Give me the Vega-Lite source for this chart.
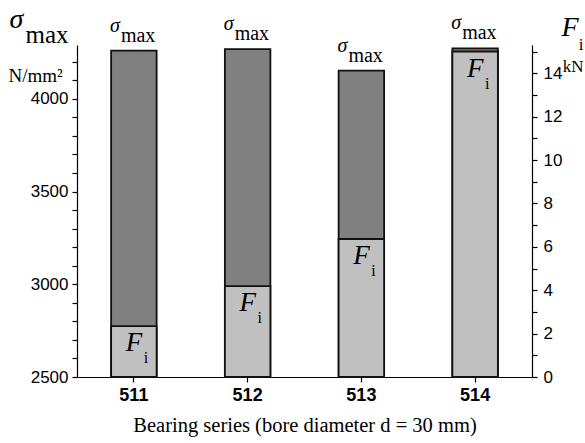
{
  "$schema": "https://vega.github.io/schema/vega-lite/v6.json",
  "width": 455,
  "height": 332,
  "autosize": "none",
  "padding": {"left": 77, "top": 45, "right": 53, "bottom": 66},
  "background": "white",
  "data": {"values": [
    {"series": "511", "sigma": 4260, "Fi": 2.34},
    {"series": "512", "sigma": 4268, "Fi": 4.19},
    {"series": "513", "sigma": 4152, "Fi": 6.36},
    {"series": "514", "sigma": 4272, "Fi": 15.0}
  ]},
  "config": {
    "view": {"stroke": null},
    "axis": {
      "grid": false,
      "domain": true,
      "ticks": true,
      "domainColor": "black",
      "domainWidth": 1.2,
      "tickColor": "black",
      "tickWidth": 1.2,
      "tickSize": 5,
      "labelColor": "black",
      "labelFont": "Liberation Sans",
      "labelFontSize": 17,
      "labelOverlap": false,
      "titleColor": "black"
    }
  },
  "layer": [
    {
      "encoding": {
        "x": {
          "field": "series",
          "type": "nominal",
          "scale": {"paddingInner": 0.6, "paddingOuter": 0.3},
          "axis": {
            "orient": "bottom",
            "labelAngle": 0,
            "labelFontWeight": "bold",
            "labelFontSize": 18,
            "labelPadding": 4,
            "title": "Bearing series (bore diameter d = 30 mm)",
            "titleFont": "Liberation Serif",
            "titleFontSize": 20.5,
            "titleFontWeight": "normal",
            "titleBaseline": "alphabetic",
            "titleY": 54
          }
        },
        "y": {
          "field": "sigma",
          "type": "quantitative",
          "scale": {"domain": [2500, 4290], "zero": false, "nice": false},
          "axis": {
            "orient": "left",
            "domain": true,
            "ticks": true,
            "zindex": 1,
            "values": [2500, 2600, 2700, 2800, 2900, 3000, 3100, 3200, 3300, 3400, 3500, 3600, 3700, 3800, 3900, 4000, 4100, 4200],
            "labelExpr": "datum.value % 500 === 0 ? datum.label : ''",
            "format": "d",
            "labelPadding": 4,
            "title": "σ",
            "titleFont": "Liberation Serif",
            "titleFontStyle": "italic",
            "titleFontWeight": "normal",
            "titleFontSize": 28,
            "titleAngle": 0,
            "titleAlign": "left",
            "titleBaseline": "alphabetic",
            "titleX": -68,
            "titleY": -18
          }
        }
      },
      "layer": [
        {
          "mark": {"type": "bar", "fill": "#808080", "stroke": "#111111", "strokeWidth": 1.8},
          "encoding": {"y2": {"datum": 2500}}
        }
      ]
    },
    {
      "encoding": {
        "x": {"field": "series", "type": "nominal", "axis": null},
        "y": {
          "field": "sigma",
          "type": "quantitative",
          "scale": {"domain": [2500, 4290], "zero": false, "nice": false},
          "axis": {
            "orient": "left",
            "domain": false,
            "ticks": false,
            "labels": false,
            "title": "N/mm²",
            "titleFont": "Liberation Serif",
            "titleFontWeight": "normal",
            "titleFontSize": 19,
            "titleAngle": 0,
            "titleAlign": "left",
            "titleBaseline": "alphabetic",
            "titleX": -69,
            "titleY": 36
          }
        }
      },
      "layer": [
        {
          "mark": {"type": "text", "text": "σ", "font": "Liberation Serif", "fontStyle": "italic", "fontSize": 20, "dx": -19, "dy": -19, "baseline": "alphabetic", "align": "center", "color": "black"}
        }
      ]
    },
    {
      "encoding": {
        "x": {"field": "series", "type": "nominal", "axis": null},
        "y": {
          "field": "sigma",
          "type": "quantitative",
          "scale": {"domain": [2500, 4290], "zero": false, "nice": false},
          "axis": {
            "orient": "left",
            "domain": false,
            "ticks": false,
            "labels": false,
            "title": "max",
            "titleFont": "Liberation Serif",
            "titleFontWeight": "normal",
            "titleFontSize": 25,
            "titleAngle": 0,
            "titleAlign": "left",
            "titleBaseline": "alphabetic",
            "titleX": -52,
            "titleY": -3
          }
        }
      },
      "layer": [
        {
          "mark": {"type": "text", "text": "max", "font": "Liberation Serif", "fontSize": 20, "dx": -13, "dy": -9, "baseline": "alphabetic", "align": "left", "color": "black"}
        }
      ]
    },
    {
      "encoding": {
        "x": {
          "field": "series",
          "type": "nominal",
          "axis": {
            "orient": "top",
            "domain": false,
            "ticks": false,
            "labels": false,
            "title": ["i", "kN"],
            "titleFont": "Liberation Serif",
            "titleFontSize": 17,
            "titleFontWeight": "normal",
            "titleAlign": "right",
            "titleBaseline": "alphabetic",
            "titleLineHeight": 22,
            "titleX": 506,
            "titleY": 4
          }
        },
        "y": {
          "field": "Fi",
          "type": "quantitative",
          "scale": {"domain": [0, 15.3], "nice": false},
          "axis": {
            "orient": "right",
            "values": [0, 1, 2, 3, 4, 5, 6, 7, 8, 9, 10, 11, 12, 13, 14, 15],
            "labelExpr": "datum.value % 2 === 0 ? datum.label : ''",
            "labelPadding": 6,
            "title": "F",
            "titleFont": "Liberation Serif",
            "titleFontStyle": "italic",
            "titleFontWeight": "normal",
            "titleFontSize": 28,
            "titleAngle": 0,
            "titleAlign": "left",
            "titleBaseline": "alphabetic",
            "titleX": 29,
            "titleY": -10
          }
        }
      },
      "layer": [
        {
          "mark": {"type": "bar", "fill": "#c0c0c0", "stroke": "#111111", "strokeWidth": 1.8},
          "encoding": {"y2": {"datum": 0}}
        },
        {
          "mark": {"type": "text", "text": "F", "font": "Liberation Serif", "fontStyle": "italic", "fontSize": 27, "dx": 0, "dy": 25, "baseline": "alphabetic", "align": "center", "color": "black"}
        },
        {
          "mark": {"type": "text", "text": "i", "font": "Liberation Serif", "fontSize": 16, "dx": 12, "dy": 37, "baseline": "alphabetic", "align": "center", "color": "black"}
        }
      ]
    }
  ],
  "resolve": {
    "scale": {"y": "independent"},
    "axis": {"x": "independent", "y": "independent"}
  }
}
